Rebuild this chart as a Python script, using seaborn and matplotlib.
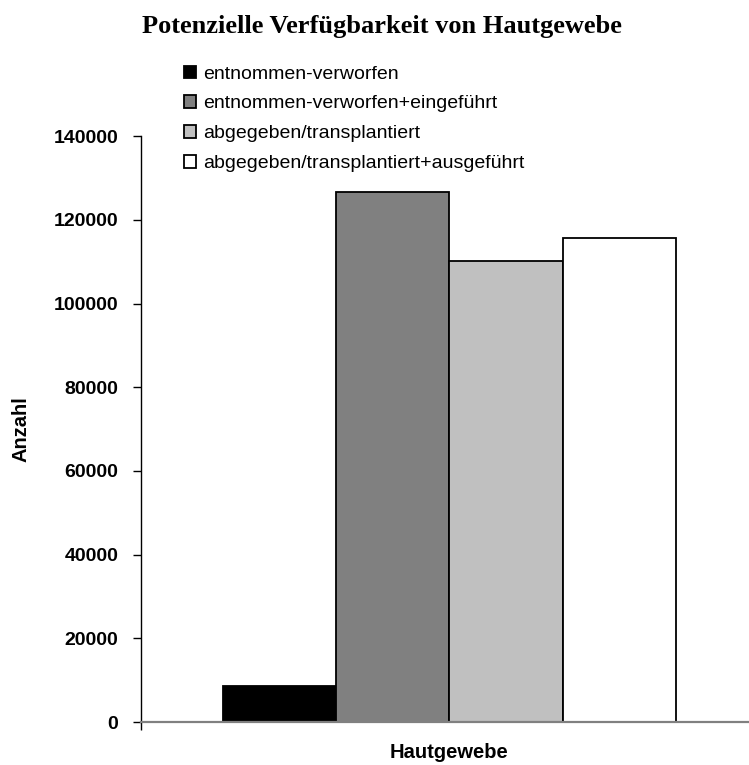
import pandas as pd
import numpy as np
import matplotlib
matplotlib.use("Agg")
import matplotlib.pyplot as plt
import seaborn as sns

# values
kategorie = ["Hautgewebe"]
serien = [
    "entnommen-verworfen",
    "entnommen-verworfen+eingeführt",
    "abgegeben/transplantiert",
    "abgegeben/transplantiert+ausgeführt",
]
anzahl = [8600, 126600, 110200, 115800]
farben = ["#000000", "#808080", "#c0c0c0", "#ffffff"]
y_ticks = list(range(0, 140001, 20000))

data = pd.DataFrame({
    "Kategorie": kategorie * len(serien),
    "Serie": serien,
    "Anzahl": anzahl,
})

sns.set_style("white")
plt.rcParams["font.family"] = ["Liberation Sans", "DejaVu Sans"]
plt.rcParams["text.color"] = "black"
plt.rcParams["axes.labelcolor"] = "black"
plt.rcParams["xtick.color"] = "black"
plt.rcParams["ytick.color"] = "black"

fig = plt.figure(figsize=(7.49, 7.65), dpi=100)
ax = fig.add_axes([0.1878, 0.0562, 0.8246, 0.7656])

sns.barplot(
    data=data, x="Kategorie", y="Anzahl", hue="Serie",
    palette=farben, edgecolor="black", linewidth=1.3,
    width=0.7335, saturation=1, ax=ax,
)

ax.set_xlim(-0.5, 0.5)
ax.set_ylim(0, 140000)
ax.set_yticks(y_ticks)
ax.set_yticklabels([str(v) for v in y_ticks], fontsize=14, fontweight="bold")
ax.set_xticks([-0.5])
ax.set_xticklabels([""])
ax.tick_params(axis="both", direction="out", length=6, width=1, color="black",
               left=True, bottom=True)
ax.tick_params(axis="y", pad=10)
ax.tick_params(axis="x", pad=1)

for side in ["top", "right"]:
    ax.spines[side].set_visible(False)
ax.spines["left"].set_color("black")
ax.spines["left"].set_linewidth(1)
ax.spines["bottom"].set_color("#808080")
ax.spines["bottom"].set_linewidth(1.6)

ax.set_ylabel("Anzahl", fontsize=14.5, fontweight="bold", labelpad=17)
ax.set_xlabel("Hautgewebe", fontsize=14.5, fontweight="bold", labelpad=8)

fig.text(0.51, 1 - 33 / 765, "Potenzielle Verfügbarkeit von Hautgewebe",
         ha="center", va="baseline", fontsize=19, fontweight="bold",
         family="Liberation Serif")

handles, labels = ax.get_legend_handles_labels()
ax.legend_.remove()
fig.legend(handles, labels, loc="upper left", bbox_to_anchor=(0.2327, 0.927),
           frameon=False, fontsize=14, handlelength=0.62, handleheight=0.62,
           handletextpad=0.35, labelspacing=0.65, borderpad=0)

plt.savefig("out.png", dpi=100)
